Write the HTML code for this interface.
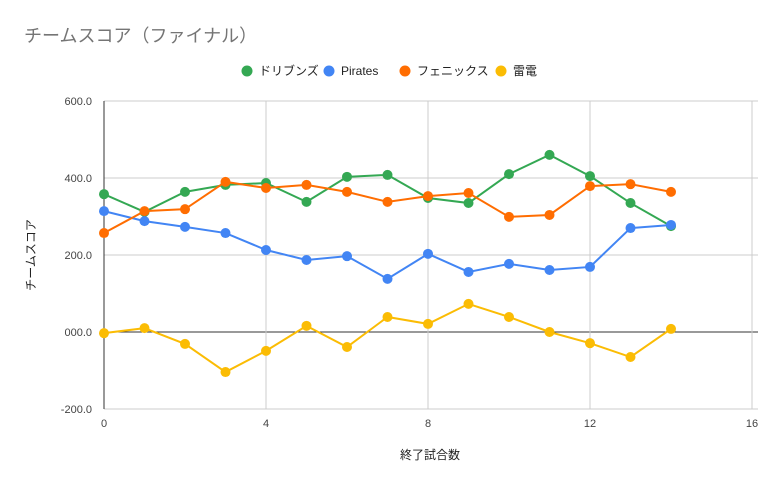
<!DOCTYPE html>
<html><head><meta charset="utf-8"><style>
body{margin:0;background:#fff;font-family:"Liberation Sans","Noto Sans CJK JP",sans-serif;}
svg text{font-family:"Liberation Sans","Noto Sans CJK JP",sans-serif;}
</style></head><body>
<svg id="c" width="784" height="485">
<rect width="784" height="485" fill="#fff"/>
<text x="24" y="42" font-size="18" fill="#757575">チームスコア（ファイナル）</text>
<g id="legend"></g>
<g id="grid"></g>
<g id="marks"></g>
<text x="430" y="459" font-size="12" text-anchor="middle" fill="#222">終了試合数</text>
<text transform="translate(35,255) rotate(-90)" font-size="12" text-anchor="middle" fill="#222">チームスコア</text>
</svg>
<script>
const xs=[0,1,2,3,4,5,6,7,8,9,10,11,12,13,14];
const seriesNames=["ドリブンズ","Pirates","フェニックス","雷電"];
const colors=["#34a853","#4285f4","#ff6d01","#fbbc04"];
const driven=[358,312,364,382,387,338,403,408,348,335,410,460,405,335,275];
const pirates=[314,288,273,257,213,187,197,138,203,156,177,161,169,270,278];
const phoenix=[257,314,319,390,374,382,364,338,353,361,299,304,379,384,364];
const raiden=[-3,10,-31,-104,-49,16,-39,39,21,73,39,0,-29,-65,8];
const yTicks=[-200,0,200,400,600];
const yTickLabels=["-200.0","000.0","200.0","400.0","600.0"];
const xTicks=[0,4,8,12,16];
const NS="http://www.w3.org/2000/svg";
const X=v=>104+v*40.5, Y=v=>332-v*0.385;
function mk(t,a,p){const e=document.createElementNS(NS,t);for(const k in a)e.setAttribute(k,a[k]);p.appendChild(e);return e;}
const g=document.getElementById('grid'),m=document.getElementById('marks'),lg=document.getElementById('legend');
yTicks.forEach((t,i)=>{
 const l=mk('line',{x1:104,x2:758,y1:Y(t),y2:Y(t),stroke:t===0?'#333':'#ccc','stroke-width':1},g);
 
 
 const tx=mk('text',{x:92,y:Y(t)+4,'font-size':11,'text-anchor':'end',fill:'#444'},g);tx.textContent=yTickLabels[i];
 
 
});
xTicks.forEach(t=>{
 const l=mk('line',{x1:X(t),x2:X(t),y1:Y(600),y2:Y(-200),stroke:t===0?'#333':'#ccc','stroke-width':1},g);
 
 
 const tx=mk('text',{x:X(t),y:Y(-200)+18,'font-size':11,'text-anchor':'middle',fill:'#444'},g);tx.textContent=t;
 
 
});
[driven,pirates,phoenix,raiden].forEach((d,s)=>{
 const p=mk('polyline',{points:d.map((v,i)=>X(xs[i])+','+Y(v)).join(' '),fill:'none',stroke:colors[s],'stroke-width':2},m);
 
 
 d.forEach((v,i)=>{const c=mk('circle',{cx:X(xs[i]),cy:Y(v),r:5,fill:colors[s]},m);
  
  });
});
const lx=[247,329,405,501];
seriesNames.forEach((n,i)=>{
 const c=mk('circle',{cx:lx[i],cy:71,r:5.5,fill:colors[i]},lg);
 
 
 const t=mk('text',{x:lx[i]+12,y:75,'font-size':12,fill:'#222'},lg);t.textContent=n;
 
 
});
</script>
</body></html>
